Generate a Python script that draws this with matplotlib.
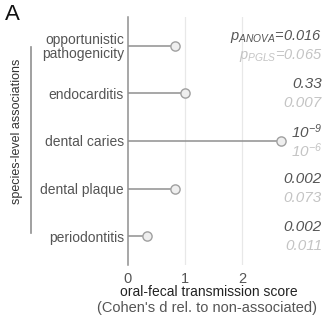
import matplotlib
matplotlib.use("Agg")
import matplotlib.pyplot as plt
from matplotlib.transforms import blended_transform_factory

plt.rcParams['font.family'] = ['Liberation Sans', 'DejaVu Sans']
plt.rcParams['mathtext.fontset'] = 'custom'
plt.rcParams['mathtext.rm'] = 'Liberation Sans:italic'
plt.rcParams['mathtext.it'] = 'Liberation Sans:italic'
plt.rcParams['mathtext.default'] = 'it'

# data, top to bottom
categories = ["opportunistic\npathogenicity", "endocarditis", "dental caries",
              "dental plaque", "periodontitis"]
scores = [0.82, 1.0, 2.68, 0.83, 0.33]
p_anova = ["$p_{ANOVA}$=0.016", "0.33", "10$^{-9}$", "0.002", "0.002"]
p_pgls = ["$p_{PGLS}$=0.065", "0.007", "10$^{-6}$", "0.073", "0.011"]
xticks = [0, 1, 2]

W, H = 326, 317
fig = plt.figure(figsize=(W / 100, H / 100), dpi=100)
ax = fig.add_axes([128 / W, 1 - 265 / H, (302 - 128) / W, (265 - 17) / H])

ypos = list(range(len(categories)))
ax.hlines(ypos, 0, scores, color='#909090', lw=1.1, zorder=2)
ax.scatter(scores, ypos, s=44, facecolor='#efefef', edgecolor='#a0a0a0', lw=1.0, zorder=3)

ax.set_xlim(0, 3.05)
ax.set_ylim(len(categories) - 1 + 0.6, -0.6)
ax.set_xticks(xticks)
ax.set_xticklabels([str(t) for t in xticks], fontsize=10.5, color='#555555')
ax.set_yticks(ypos)
ax.set_yticklabels(categories, fontsize=10, color='#555555', linespacing=0.95)
ax.tick_params(axis='both', length=0, pad=3)
ax.tick_params(axis='x', pad=5)
for s in ['top', 'right', 'bottom']:
    ax.spines[s].set_visible(False)
ax.spines['left'].set_color('#909090')
ax.spines['left'].set_linewidth(1.1)
for t in [1, 2]:
    ax.axvline(t, color='#e8e8e8', lw=0.9, zorder=0)

# p-value annotations on the right
tr = blended_transform_factory(fig.transFigure, ax.transData)
for i in ypos:
    fs = 10.5 if i == 0 else 11
    ax.text(322 / W, i - 0.2, p_anova[i], transform=tr, ha='right', va='center',
            fontsize=fs, style='italic', color='#555555')
    ax.text(322 / W, i + 0.2, p_pgls[i], transform=tr, ha='right', va='center',
            fontsize=fs, style='italic', color='#c4c4c4')

# x label
fig.text(209 / W, 1 - 292 / H, "oral-fecal transmission score", ha='center', va='center',
         fontsize=10, color='#222222')
fig.text(207 / W, 1 - 308 / H, "(Cohen's d rel. to non-associated)", ha='center', va='center',
         fontsize=10.5, color='#555555')

# bracket and group label
fig.add_artist(plt.Line2D([31 / W, 31 / W], [1 - 47 / H, 1 - 233 / H], color='#909090', lw=1.2))
fig.text(17 / W, 1 - 131 / H, "species-level associations", rotation=90, ha='center', va='center',
         fontsize=9, color='#333333')

fig.text(5 / W, 1 - 14 / H, "A", ha='left', va='center', fontsize=16, color='#111111')

fig.savefig("out.png", dpi=100)
